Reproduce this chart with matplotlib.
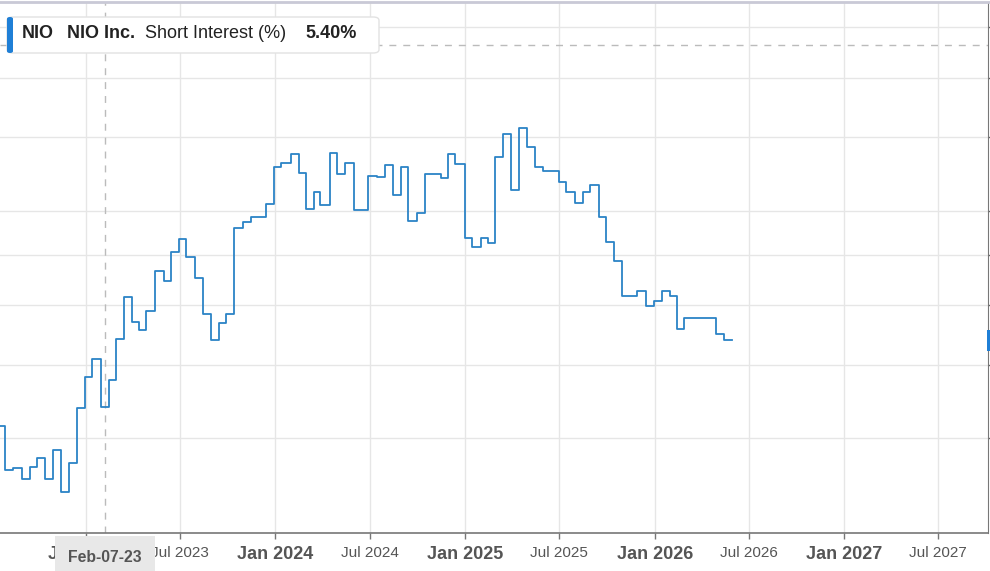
import numpy as np
import pandas as pd
import matplotlib
matplotlib.use('Agg')
import matplotlib.pyplot as plt
import matplotlib.ticker as mticker
import matplotlib.patches as mpatches
from matplotlib.lines import Line2D

plt.rcParams['font.family'] = ['Liberation Sans', 'DejaVu Sans']

# short interest (%) readings, semi-monthly settlement dates
dates = ['2022-07-15', '2022-07-29', '2022-08-15', '2022-08-31', '2022-09-15', '2022-09-30',
         '2022-10-14', '2022-10-31', '2022-11-15', '2022-11-30', '2022-12-15', '2022-12-30',
         '2023-01-13', '2023-01-31', '2023-02-15', '2023-02-28', '2023-03-15', '2023-03-31',
         '2023-04-14', '2023-04-28', '2023-05-15', '2023-05-31', '2023-06-15', '2023-06-30',
         '2023-07-14', '2023-07-31', '2023-08-15', '2023-08-31', '2023-09-15', '2023-09-29',
         '2023-10-13', '2023-10-31', '2023-11-15', '2023-11-30', '2023-12-15', '2023-12-29',
         '2024-01-12', '2024-01-31', '2024-02-15', '2024-02-29', '2024-03-15', '2024-03-28',
         '2024-04-15', '2024-04-30', '2024-05-15', '2024-05-31', '2024-06-14', '2024-06-28',
         '2024-07-15', '2024-07-31', '2024-08-15', '2024-08-30', '2024-09-13', '2024-09-30',
         '2024-10-15', '2024-10-31', '2024-11-15', '2024-11-29', '2024-12-13', '2024-12-31',
         '2025-01-15', '2025-01-31', '2025-02-14', '2025-02-28', '2025-03-14', '2025-03-31',
         '2025-04-15', '2025-04-30', '2025-05-15', '2025-05-30', '2025-06-13', '2025-06-30',
         '2025-07-15', '2025-07-31', '2025-08-15', '2025-08-29', '2025-09-15', '2025-09-30',
         '2025-10-15', '2025-10-31', '2025-11-14', '2025-11-28', '2025-12-15', '2025-12-31',
         '2026-01-15', '2026-01-30', '2026-02-13', '2026-02-27', '2026-03-13', '2026-03-31',
         '2026-04-15', '2026-04-30', '2026-05-15', '2026-05-29']
short_pct = [4.15, 3.63, 3.66, 3.54, 3.67, 3.77,
             3.54, 3.86, 3.40, 3.71, 4.39, 4.82,
             5.09, 4.40, 4.78, 5.42, 6.15, 5.70,
             5.57, 5.90, 6.65, 6.45, 7.06, 7.33,
             6.94, 6.51, 5.85, 5.39, 5.69, 5.85,
             7.60, 7.72, 7.86, 7.85, 8.17, 9.15,
             9.24, 9.51, 8.97, 8.04, 8.46, 8.14,
             9.53, 8.94, 9.26, 8.02, 8.02, 8.88,
             8.86, 9.20, 8.39, 9.13, 7.76, 7.95,
             8.95, 8.95, 8.85, 9.51, 9.22, 7.36,
             7.16, 7.36, 7.26, 9.41, 10.11, 8.53,
             10.30, 9.71, 9.13, 9.04, 9.04, 8.74,
             8.48, 8.19, 8.46, 8.64, 7.86, 7.27,
             6.87, 6.18, 6.18, 6.27, 5.99, 6.08,
             6.27, 6.18, 5.58, 5.78, 5.78, 5.78,
             5.78, 5.49, 5.40, 5.40]

tick_dates = ['2023-01-01', '2023-07-01', '2024-01-01', '2024-07-01', '2025-01-01',
              '2025-07-01', '2026-01-01', '2026-07-01', '2027-01-01', '2027-07-01']
tick_labels = ['Jan 2023', 'Jul 2023', 'Jan 2024', 'Jul 2024', 'Jan 2025',
               'Jul 2025', 'Jan 2026', 'Jul 2026', 'Jan 2027', 'Jul 2027']
y_grid = [4, 5, 6, 7, 8, 10, 12, 14]

ticker = 'NIO'
company = 'NIO Inc.'
metric = 'Short Interest (%)'
latest = '5.40%'
cursor_date = '2023-02-07'
cursor_label = 'Feb-07-23'
cursor_value = 13.25

W, H = 990, 571
fig = plt.figure(figsize=(W / 100, H / 100), dpi=100)
ax = fig.add_axes([0, 38 / H, 988 / W, 531 / H])

x = pd.to_datetime(dates)
ax.step(x, short_pct, where='post', color='#2b83c6', lw=1.3, zorder=3)

ax.set_yscale('log')
ax.set_ylim(3, 15.1)
ax.set_xlim(pd.Timestamp('2022-07-20'), pd.Timestamp('2027-10-05'))

ax.yaxis.set_major_locator(mticker.FixedLocator(y_grid))
ax.yaxis.set_minor_locator(mticker.NullLocator())
ax.yaxis.set_major_formatter(mticker.NullFormatter())
ax.yaxis.tick_right()
ax.tick_params(axis='y', direction='out', length=4, color='#666', width=1)

ax.set_xticks(pd.to_datetime(tick_dates))
ax.set_xticklabels(tick_labels)
ax.xaxis.set_minor_locator(mticker.NullLocator())
ax.tick_params(axis='x', direction='out', length=4.3, color='#777', width=1, pad=5,
               labelcolor='#555')
for lab in ax.get_xticklabels():
    if lab.get_text().startswith('Jan'):
        lab.set_fontsize(13)
        lab.set_fontweight('bold')
    else:
        lab.set_fontsize(11)

ax.grid(True, color='#e6e6e6', lw=1, zorder=0)
for s in ['left', 'top']:
    ax.spines[s].set_visible(False)
ax.spines['right'].set_color('#777')
ax.spines['bottom'].set_color('#777')
ax.spines['bottom'].set_linewidth(1.2)

# crosshair
ax.axvline(pd.Timestamp(cursor_date), color='#bbbbbb', lw=1, ls=(0, (5, 5)), zorder=2)
ax.axhline(cursor_value, color='#bbbbbb', lw=1, ls=(0, (5, 5)), zorder=2)

# top border
fig.add_artist(Line2D([0, 1], [1 - 1.5 / H, 1 - 1.5 / H], color='#c9c9d6', lw=2,
                      transform=fig.transFigure))

# date label under crosshair
fig.add_artist(mpatches.Rectangle((55 / W, 0), 100 / W, 35 / H, transform=fig.transFigure,
                                  facecolor='#e8e8e8', edgecolor='none', zorder=5))
fig.text(105 / W, 1 - 557 / H, cursor_label, ha='center', va='center', fontsize=11.3,
         fontweight='bold', color='#555', zorder=6)

# current value flag on the right edge
fig.add_artist(mpatches.Rectangle((987 / W, 1 - 351 / H), 3 / W, 21 / H,
                                  transform=fig.transFigure, facecolor='#1f7fd6',
                                  edgecolor='none', zorder=5))

# legend box
box = mpatches.FancyBboxPatch((7 / W, 1 - 53 / H), 372 / W, 36 / H,
                              boxstyle='round,pad=0,rounding_size=0.006',
                              transform=fig.transFigure, facecolor='white',
                              edgecolor='#e2e2e2', lw=1, zorder=5)
fig.add_artist(box)
fig.add_artist(mpatches.FancyBboxPatch((7 / W, 1 - 53 / H), 6 / W, 36 / H,
                                       boxstyle='round,pad=0,rounding_size=0.003',
                                       transform=fig.transFigure, facecolor='#1f7fd6',
                                       edgecolor='none', zorder=6))
ty = 1 - 34 / H
fig.text(22 / W, ty, ticker, fontsize=13, fontweight='bold', color='#222', va='center', zorder=7)
fig.text(67 / W, ty, company, fontsize=13, fontweight='bold', color='#222', va='center', zorder=7)
fig.text(145 / W, ty, metric, fontsize=13, color='#222', va='center', zorder=7)
fig.text(305 / W, ty, latest, fontsize=13, fontweight='bold', color='#222', va='center', zorder=7)

fig.savefig('out.png', dpi=100, facecolor='white')
